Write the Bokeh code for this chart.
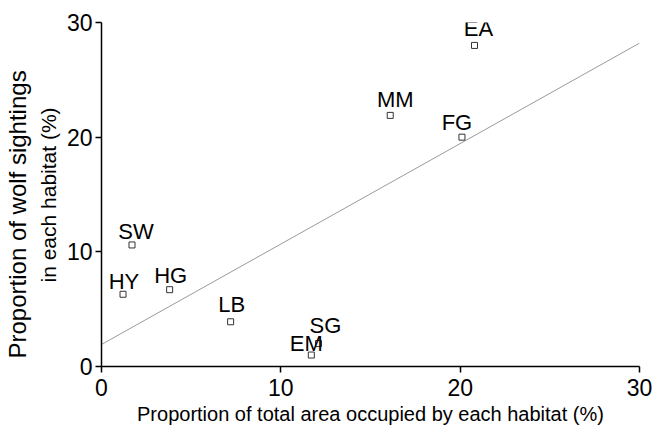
from bokeh.plotting import figure
from bokeh.models import ColumnDataSource, Range1d, FixedTicker, LabelSet, Title
from bokeh.core.properties import value
from bokeh.embed import file_html
from bokeh.resources import INLINE

# Habitat codes and their share of area vs. share of wolf sightings (%)
habitats = ["EA", "MM", "FG", "SW", "HY", "HG", "LB", "SG", "EM"]
area_pct = [20.8, 16.1, 20.1, 1.7, 1.2, 3.8, 7.2, 12.1, 11.7]
sighting_pct = [28.0, 21.9, 20.0, 10.6, 6.3, 6.7, 3.9, 2.0, 1.0]

# Fitted regression line: sightings = intercept + slope * area
fit_intercept = 1.92
fit_slope = 0.876
fit_x = [0, 30]

axis_ticks = [0, 10, 20, 30]

x_title = "Proportion of total area occupied by each habitat (%)"
y_title_lines = ["Proportion of wolf sightings", "in each habitat (%)"]

# small pixel nudges so the habitat codes sit clear of one another
label_dx = [4, 5, -5, 4, 1, 1, 1, 7, -5]
label_dy = [9, 8, 7, 6, 5, 7, 10, 11, 4]

FONT = "Liberation Sans"

p = figure(width=655, height=427, output_backend="svg", toolbar_location=None,
           x_range=Range1d(0, 30), y_range=Range1d(0, 30),
           min_border_left=101, min_border_right=16, min_border_top=22,
           min_border_bottom=61)
p.outline_line_color = None
p.grid.visible = False
p.background_fill_color = "white"
p.border_fill_color = "white"

for ax in (p.xaxis[0], p.yaxis[0]):
    ax.ticker = FixedTicker(ticks=axis_ticks)
    ax.minor_tick_line_color = None
    ax.major_tick_in = 0
    ax.major_tick_out = 6
    ax.axis_line_color = "black"
    ax.axis_line_width = 1.5
    ax.major_tick_line_color = "black"
    ax.major_tick_line_width = 1.5
    ax.major_label_text_font = FONT
    ax.major_label_text_font_size = "23px"
    ax.major_label_text_color = "black"

p.xaxis.axis_label = x_title
p.xaxis.axis_label_text_font = FONT
p.xaxis.axis_label_text_font_size = "20px"
p.xaxis.axis_label_text_font_style = "normal"
p.xaxis.axis_label_text_color = "black"
p.xaxis.major_label_standoff = 6
p.yaxis.major_label_standoff = 3
p.xaxis.axis_label_standoff = 4

# two-line vertical title to the left of the y axis; inner line first,
# each starting a set distance above the bottom of the frame
for line_text, gap, size, start in zip(reversed(y_title_lines),
                                       [8, 0], ["21px", "24px"], [84, 8]):
    p.add_layout(Title(text=line_text, align="left", offset=start,
                       standoff=gap, text_font=FONT, text_font_size=size,
                       text_font_style="normal", text_color="black"), "left")

# regression line
fit_y = [fit_intercept + fit_slope * x for x in fit_x]
p.line(fit_x, fit_y, line_color="#9a9a9a", line_width=1)

src = ColumnDataSource(dict(x=area_pct, y=sighting_pct, name=habitats,
                            dx=label_dx, dy=label_dy))
p.scatter("x", "y", source=src, marker="square", size=6,
          fill_color="white", line_color="#333333", line_width=1)

labels = LabelSet(x="x", y="y", text="name", source=src,
                  x_offset="dx", y_offset="dy",
                  text_align="center", text_baseline="alphabetic",
                  text_font=value(FONT), text_font_size="22px",
                  text_color="black")
p.add_layout(labels)

open("out.html", "w").write(file_html(p, INLINE))
